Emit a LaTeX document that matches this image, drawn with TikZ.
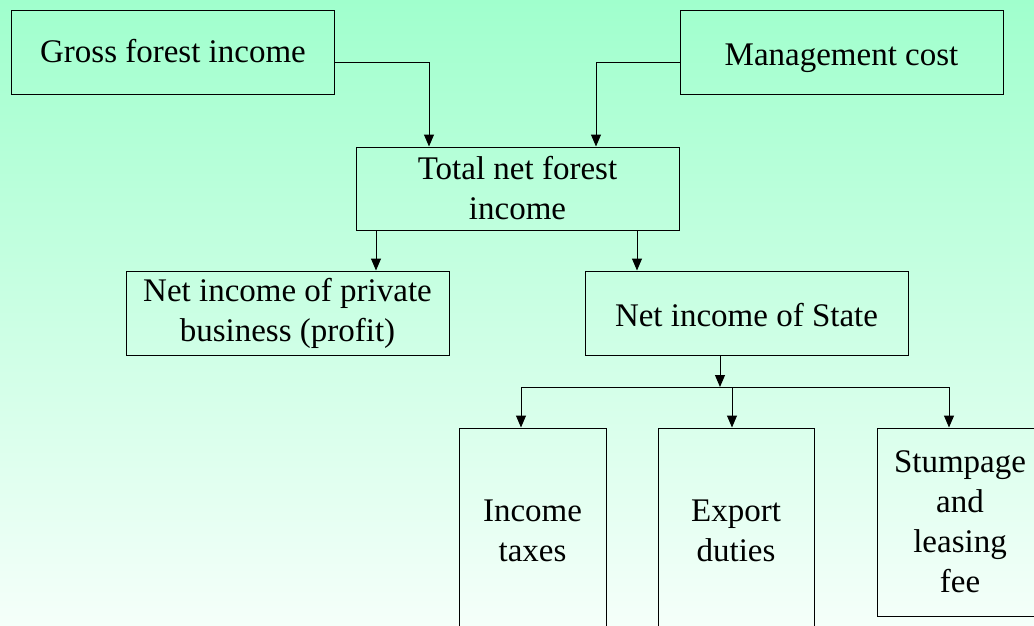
\documentclass[tikz,border=0pt]{standalone}
\usepackage{fontspec}
\setmainfont{Liberation Serif}
\usetikzlibrary{arrows.meta}
\definecolor{bgtop}{RGB}{160,255,205}
\definecolor{bgbottom}{RGB}{245,255,250}
\begin{document}
\begin{tikzpicture}[x=1pt,y=-1pt,
  line width=1pt,
  main node/.style={draw,rectangle,inner sep=0pt,align=center,font=\fontsize{33}{40}\selectfont},
  wide node/.style={main node,minimum width=323pt,minimum height=84pt},
  tall node/.style={main node,minimum height=206pt},
  one line/.style={text height=30pt,text depth=3pt},
  flow/.style={-{Triangle[length=12pt,width=10pt]}}]
  \useasboundingbox (0,0) rectangle (1034,626);
  \shade[top color=bgtop,bottom color=bgbottom] (0,0) rectangle (1034,626);
  \clip (0,0) rectangle (1034,626);
  % top row
  \node[wide node,text height=24pt,text depth=3pt] (gross) at (173,52.5) {Gross forest income};
  \node[wide node,one line] (mgmt) at (841.5,52.5) {Management cost};
  \node[wide node,minimum height=83pt] (total) at (517.5,188.5) {Total net forest\\income};
  % second row
  \node[wide node] (private) at (287.5,313) {Net income of private\\business (profit)};
  \node[wide node,one line] (state) at (746.5,313) {Net income of State};
  % state income parts
  \node[tall node,minimum width=147pt] (taxes) at (532.5,531) {Income\\taxes};
  \node[tall node,minimum width=156pt] (duties) at (736,531) {Export\\duties};
  \node[main node,minimum width=166pt,minimum height=188pt] (stump) at (960,522) {Stumpage\\and\\leasing\\fee};
  \coordinate (bus) at (720,387);
  \coordinate (b1) at (521,387);
  \coordinate (b2) at (732,387);
  \coordinate (b3) at (949,387);
  \draw[flow] ([yshift=-10.5pt]gross.east) -| ([xshift=-88.5pt]total.north);
  \draw[flow] ([yshift=-10.5pt]mgmt.west) -| ([xshift=78.5pt]total.north);
  \draw[flow] ([xshift=-141.5pt]total.south) -- ([xshift=88.5pt]private.north);
  \draw[flow] ([xshift=119.5pt]total.south) -- ([xshift=-109.5pt]state.north);
  \draw[flow] ([xshift=-26.5pt]state.south) -- (bus);
  \draw (b1) -- (b3);
  \draw[flow] (b1) -- (b1 |- taxes.north);
  \draw[flow] (b2) -- (b2 |- duties.north);
  \draw[flow] (b3) -- (b3 |- stump.north);
\end{tikzpicture}
\end{document}
